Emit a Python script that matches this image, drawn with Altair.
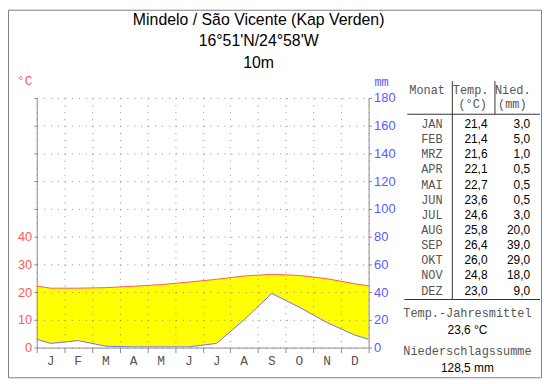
import altair as alt
import pandas as pd

# ---------------- data ----------------
month_initials = ["J", "F", "M", "A", "M", "J", "J", "A", "S", "O", "N", "D"]
month_names = ["JAN", "FEB", "MRZ", "APR", "MAI", "JUN", "JUL", "AUG", "SEP", "OKT", "NOV", "DEZ"]
temperature = [21.4, 21.4, 21.6, 22.1, 22.7, 23.6, 24.6, 25.8, 26.4, 26.0, 24.8, 23.0]
precipitation = [3.0, 5.0, 1.0, 0.5, 0.5, 0.5, 3.0, 20.0, 39.0, 29.0, 18.0, 9.0]
title_lines = ["Mindelo / São Vicente (Kap Verden)", "16°51'N/24°58'W", "10m"]
temp_ticks = [0, 10, 20, 30, 40, 50, 60, 70, 80, 90]
precip_ticks = [0, 20, 40, 60, 80, 100, 120, 140, 160, 180]
annual_mean_label = "23,6 °C"
annual_sum_label = "128,5 mm"

# cyclic extension (December before January, January after December)
pos = [-0.5] + [i + 0.5 for i in range(12)] + [12.5]
clim = pd.DataFrame({
    "pos": pos,
    "temp": [temperature[-1]] + temperature + [temperature[0]],
    "precip": [precipitation[-1]] + precipitation + [precipitation[0]],
})
mlab = pd.DataFrame({"m": month_initials, "pos": [i + 0.5 for i in range(12)]})

def de(v):
    return f"{v:.1f}".replace(".", ",")

table = pd.DataFrame({
    "i": list(range(12)),
    "mon": month_names,
    "t": [de(v) for v in temperature],
    "p": [de(v) for v in precipitation],
})

# ---------------- styles ----------------
GRAY = "#8c8c8c"
RED = "#ff5a5a"
BLUE = "#5a5aff"
MONO = "Liberation Mono"
SANS = "Liberation Sans"
MONO_COLOR = "#555555"
W, H = 335, 252

xenc = alt.X(
    "pos:Q",
    scale=alt.Scale(domain=[0, 12], nice=False, zero=False),
    axis=alt.Axis(values=list(range(13)), labels=False, title=None, tickSize=5,
                  tickColor=GRAY, domainColor=GRAY, grid=True, gridColor=GRAY,
                  gridDash=[1, 6], zindex=1),
)
left_axis = alt.Axis(values=temp_ticks, title=None, tickSize=3, tickColor=GRAY,
                     domainColor=GRAY, grid=True, gridColor=GRAY, gridDash=[1, 6],
                     labelColor=RED, labelFont=SANS, labelFontSize=13, labelPadding=2,
                     labelExpr="datum.value <= 40 ? datum.label : ''", zindex=1)
right_axis = alt.Axis(values=precip_ticks, orient="right", title=None, tickSize=3,
                      tickColor=GRAY, domainColor=GRAY, grid=False, labelColor=BLUE,
                      labelFont=SANS, labelFontSize=13, labelPadding=2, zindex=1)
tscale = alt.Scale(domain=[0, 90], nice=False, zero=False)
pscale = alt.Scale(domain=[0, 180], nice=False, zero=False)

base = alt.Chart(clim)
area = base.transform_calculate(p2="datum.precip / 2").mark_area(
    color="#ffff00", interpolate="linear", clip=True
).encode(x=xenc, y=alt.Y("temp:Q", scale=tscale, axis=left_axis), y2="p2:Q")
tline = base.mark_line(color=RED, strokeWidth=1, interpolate="linear", clip=True).encode(
    x=xenc, y=alt.Y("temp:Q", scale=tscale, axis=left_axis))
mtext = alt.Chart(mlab).mark_text(font=MONO, fontSize=13, color=MONO_COLOR, baseline="middle").encode(
    x=xenc, y=alt.value(H + 14), text="m:N")
inner = alt.layer(area, tline, mtext)

pline = base.mark_line(color="#7070ff", strokeWidth=1, interpolate="linear", clip=True).encode(
    x=xenc, y=alt.Y("precip:Q", scale=pscale, axis=right_axis))

# table rows (own point scale for row position)
rowenc = alt.Y("i:O", scale=alt.Scale(type="point", range=[26.3, 194.6], padding=0), axis=None)
tb = alt.Chart(table)
col_m = tb.mark_text(font=MONO, fontSize=12, color=MONO_COLOR, align="right", baseline="middle").encode(
    y=rowenc, x=alt.value(409.7), text="mon:N")
col_t = tb.mark_text(font=SANS, fontSize=12, color="#000000", align="right", baseline="middle").encode(
    y=rowenc, x=alt.value(455), text="t:N")
col_p = tb.mark_text(font=SANS, fontSize=12, color="#000000", align="right", baseline="middle").encode(
    y=rowenc, x=alt.value(498), text="p:N")
table_layer = alt.layer(col_m, col_t, col_p)

one = pd.DataFrame({"k": [0]})

def txt(s, x, y, font=MONO, size=12, color=MONO_COLOR, align="center"):
    return alt.Chart(pd.DataFrame({"t": [s]})).mark_text(
        font=font, fontSize=size, color=color, align=align, baseline="middle"
    ).encode(text="t:N", x=alt.value(x), y=alt.value(y))

def rule(x1, x2, y1, y2, color="#333333"):
    return alt.Chart(one).mark_rule(color=color, strokeWidth=1).encode(
        x=alt.value(x1), x2=alt.value(x2), y=alt.value(y1), y2=alt.value(y2))

decor = [
    txt(title_lines[0], 224, -79, font=SANS, size=16, color="#000000"),
    txt(title_lines[1], 224, -57, font=SANS, size=16, color="#000000"),
    txt(title_lines[2], 224, -35, font=SANS, size=16, color="#000000"),
    txt("°C", -12, -17, size=13, color=RED),
    txt("mm", 348, -16, size=12, color=BLUE),
    txt("Monat", 394, -8),
    txt("Temp.", 438, -8),
    txt("(°C)", 440, 6),
    txt("Nied.", 480.5, -8),
    txt("(mm)", 480, 6),
    txt("Temp.-Jahresmittel", 434.7, 217),
    txt(annual_mean_label, 434.7, 234, font=SANS, color="#000000"),
    txt("Niederschlagssumme", 434.7, 255.5),
    txt(annual_sum_label, 434.7, 273, font=SANS, color="#000000"),
    rule(419.5, 419.5, -17, 203),
    rule(462.5, 462.5, -17, 16.5),
    rule(374, 508, 16.5, 16.5),
    rule(371, 508, 203.5, 203.5),
    alt.Chart(one).mark_rect(fill="transparent", stroke="#808080", strokeWidth=1).encode(
        x=alt.value(-28.5), x2=alt.value(509.5), y=alt.value(-88.5), y2=alt.value(282.5)),
]

chart = alt.layer(inner, pline, table_layer, *decor).resolve_scale(y="independent").properties(
    width=W, height=H,
    autosize=alt.AutoSizeParams(type="none"),
    padding={"left": 29, "top": 89, "right": 175, "bottom": 31},
    background="#ffffff",
).configure_view(stroke="transparent")

chart.save("out.html", embed_options={"renderer": "svg", "actions": False})
